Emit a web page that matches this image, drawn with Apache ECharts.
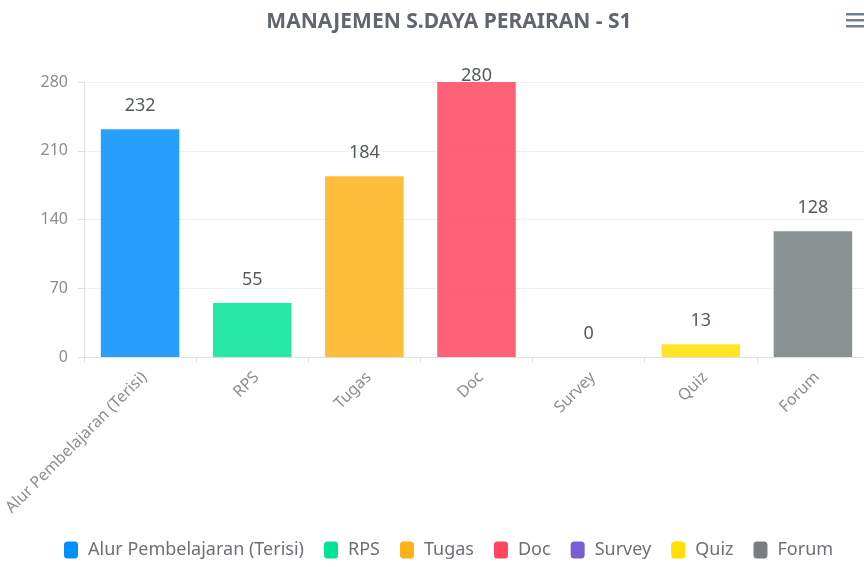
<!DOCTYPE html>
<html>
<head>
<meta charset="utf-8">
<script src="https://cdn.jsdelivr.net/npm/echarts@6/dist/echarts.min.js"></script>
<style>
  html, body { margin: 0; padding: 0; background: #ffffff; }
  #chart { width: 864px; height: 567px; }
</style>
</head>
<body>
<div id="chart"></div>
<script>
// Learning-activity counts per course component
const categories = ['Alur Pembelajaran (Terisi)', 'RPS', 'Tugas', 'Doc', 'Survey', 'Quiz', 'Forum'];
const values = [232, 55, 184, 280, 0, 13, 128];
const colors = ['#008FFB', '#00E396', '#FEB019', '#FF4560', '#775DD0', '#FFE000', '#767E7F'];
const yTicks = { min: 0, max: 280, interval: 70 };

const FONT = '"Noto Sans", "Open Sans", sans-serif';

// One series per category so each one gets its own legend entry;
// all series share a slot (barGap -100%) so bars sit centred on their category.
const series = categories.map((name, i) => ({
  name: name,
  type: 'bar',
  barWidth: '70%',
  barGap: '-100%',
  itemStyle: { color: colors[i], opacity: 0.85 },
  label: {
    show: true,
    position: 'top',
    distance: values[i] >= yTicks.max ? -3 : 14,
    color: '#373d3f',
    fontFamily: FONT,
    fontSize: 18
  },
  data: categories.map((c, j) => (j === i ? values[i] : null))
}));

const chart = echarts.init(document.getElementById('chart'));
chart.setOption({
  animation: false,
  backgroundColor: '#ffffff',
  title: {
    text: 'MANAJEMEN S.DAYA PERAIRAN - S1',
    left: 444,
    textAlign: 'center',
    top: 7,
    textStyle: { fontFamily: FONT, fontSize: 21, fontWeight: 'bold', color: '#5f6670' }
  },
  legend: {
    bottom: 3,
    left: 59,
    icon: 'roundRect',
    itemWidth: 14,
    itemHeight: 17,
    itemGap: 20,
    textStyle: { fontFamily: FONT, fontSize: 18, color: '#6e7077', padding: [0, 0, 0, 5] },
    data: categories.map((c, i) => ({ name: c, itemStyle: { color: colors[i], opacity: 1 } }))
  },
  // the plot runs a few pixels past the right edge of the canvas
  grid: { left: 84, right: -5, top: 82, height: 275, containLabel: false, outerBoundsMode: 'none' },
  xAxis: {
    type: 'category',
    data: categories,
    axisLine: { lineStyle: { color: '#e0e0e0', width: 1 } },
    axisTick: { show: true, alignWithLabel: false, length: 6, lineStyle: { color: '#e0e0e0' } },
    axisLabel: {
      rotate: 45,
      margin: 22,
      padding: [0, -6, 0, 0],
      fontFamily: FONT,
      fontSize: 16,
      color: '#8a8d93',
      interval: 0
    }
  },
  yAxis: {
    type: 'value',
    min: yTicks.min,
    max: yTicks.max,
    interval: yTicks.interval,
    axisLine: { show: true, lineStyle: { color: '#e0e0e0' } },
    axisTick: { show: true, length: 6, lineStyle: { color: '#e0e0e0' } },
    axisLabel: { fontFamily: FONT, fontSize: 16, color: '#8a8d93', margin: 16 },
    splitLine: { lineStyle: { color: '#f1f1f1' } }
  },
  graphic: [
    // menu icon
    { type: 'rect', left: 846, top: 13, shape: { width: 18, height: 2.5 }, style: { fill: '#6e8192' } },
    { type: 'rect', left: 846, top: 19, shape: { width: 18, height: 2.5 }, style: { fill: '#6e8192' } },
    { type: 'rect', left: 846, top: 25, shape: { width: 18, height: 2.5 }, style: { fill: '#6e8192' } }
  ],
  series: series
});
</script>
</body>
</html>
